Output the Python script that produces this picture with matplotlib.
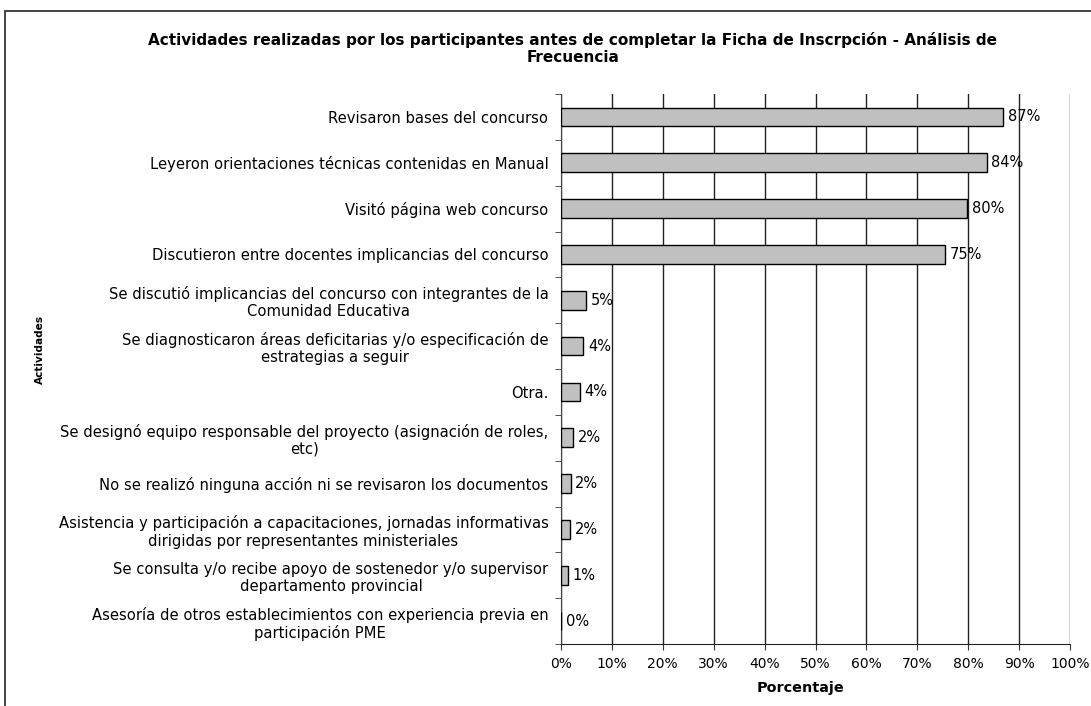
import matplotlib
matplotlib.use("Agg")
import matplotlib.pyplot as plt
from matplotlib.patches import Rectangle
import numpy as np

# data (percent), top to bottom
actividades = [
    "Revisaron bases del concurso",
    "Leyeron orientaciones técnicas contenidas en Manual",
    "Visitó página web concurso",
    "Discutieron entre docentes implicancias del concurso",
    "Se discutió implicancias del concurso con integrantes de la\nComunidad Educativa",
    "Se diagnosticaron áreas deficitarias y/o especificación de\nestrategias a seguir",
    "Otra.",
    "Se designó equipo responsable del proyecto (asignación de roles,\netc)",
    "No se realizó ninguna acción ni se revisaron los documentos",
    "Asistencia y participación a capacitaciones, jornadas informativas\ndirigidas por representantes ministeriales",
    "Se consulta y/o recibe apoyo de sostenedor y/o supervisor\ndepartamento provincial",
    "Asesoría de otros establecimientos con experiencia previa en\nparticipación PME",
]
porcentaje = [86.9, 83.6, 79.8, 75.4, 4.9, 4.4, 3.7, 2.4, 1.9, 1.8, 1.3, 0.0]
xticks = list(range(0, 101, 10))

plt.rcParams["font.family"] = ["DejaVu Sans"]
fig = plt.figure(figsize=(10.91, 7.06), dpi=100)
W, H = 1091, 706

# outer frame (cut by image edges at right/bottom)
fig.patches.append(Rectangle((5 / W, -0.01), 1.0, 1 - 11 / H + 0.01, transform=fig.transFigure,
                             fill=False, edgecolor="#222222", lw=1.2))

ax = fig.add_axes([561 / W, 1 - 644 / H, (1070 - 561) / W, (644 - 94) / H])
n = len(actividades)
ypos = np.arange(n)
ax.barh(ypos, porcentaje, height=0.41, color="#c0c0c0", edgecolor="black", lw=1, zorder=3)
for y, v in zip(ypos, porcentaje):
    ax.text(v + 0.9, y, f"{v:.0f}%", va="center", ha="left", fontsize=10.5, zorder=4)

ax.set_ylim(n - 0.5, -0.5)
ax.set_xlim(0, 100)
ax.set_xticks(xticks)
ax.set_xticklabels([f"{t}%" for t in xticks], fontsize=10)
ax.set_yticks(ypos)
ax.set_yticklabels(actividades, fontsize=10.6, linespacing=1.18)
for lab in ax.get_yticklabels():
    lab.set_multialignment("center")
ax.set_yticks(np.arange(-0.5, n, 1.0), minor=True)
ax.tick_params(axis="y", which="major", length=0, pad=9)
ax.tick_params(axis="y", which="minor", length=4, color="#333333")
ax.tick_params(axis="x", length=4, color="#333333", pad=5)

ax.grid(axis="x", color="#222222", lw=1, zorder=1)
for s in ("top", "right"):
    ax.spines[s].set_visible(False)
ax.spines["left"].set_color("#444444")
ax.spines["bottom"].set_color("#222222")

fig.text(801 / W, 1 - 688 / H, "Porcentaje", fontsize=10.4, fontweight="bold",
         ha="center", va="center")
fig.text(40 / W, 1 - 350 / H, "Actividades", rotation=90, fontsize=7.6, fontweight="bold",
         ha="center", va="center")
fig.text(573 / W, 1 - 48.5 / H,
         "Actividades realizadas por los participantes antes de completar la Ficha de Inscrpción - Análisis de\nFrecuencia",
         ha="center", va="center", fontsize=11, fontweight="bold", linespacing=1.15)

fig.savefig("out.png", dpi=100)
